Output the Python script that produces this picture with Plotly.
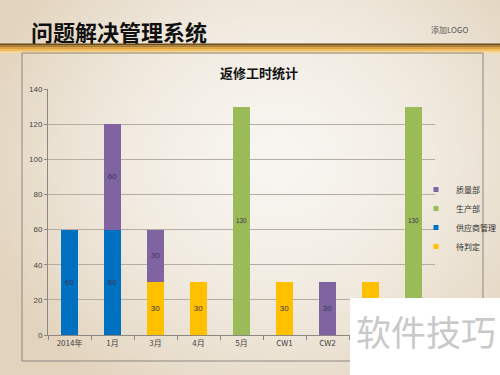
import base64, struct, zlib
import numpy as np
import plotly.graph_objects as go

categories = ["2014年", "1月", "3月", "4月", "5月", "CW1", "CW2", "CW3", "CW4"]
pending = [None, None, 30, 30, None, 30, None, 30, None]       # 待判定
supplier = [60, 60, None, None, None, None, None, None, None]  # 供应商管理
production = [None, None, None, None, 130, None, None, None, 130]  # 生产部
quality = [None, 60, 30, None, None, None, 30, None, None]     # 质量部
series_names = ["待判定", "供应商管理", "生产部", "质量部"]
series_colors = ["#FFC000", "#0070C0", "#9BBB59", "#8064A2"]

W, H = 500, 375
L, R, T, B = 48, 435, 89, 335

def px(x):
    return (x - L) / (R - L)

def py(y):
    return (B - y) / (B - T)

# background radial gradient as PNG data URI
def make_bg():
    w, h = 125, 94
    yy, xx = np.mgrid[0:h, 0:w]
    cx, cy = w * 0.55, h * 0.42
    d = np.sqrt(((xx - cx) / (w * 0.62)) ** 2 + ((yy - cy) / (h * 0.75)) ** 2)
    d = np.clip(d, 0, 1) ** 1.6
    c0 = np.array([248, 246, 241], float)
    c1 = np.array([226, 211, 188], float)
    img = c0[None, None, :] * (1 - d[..., None]) + c1[None, None, :] * d[..., None]
    img = img.astype(np.uint8)
    raw = b"".join(b"\x00" + img[r].tobytes() for r in range(h))
    def chunk(t, data):
        c = struct.pack(">I", len(data)) + t + data
        return c + struct.pack(">I", zlib.crc32(t + data) & 0xFFFFFFFF)
    png = b"\x89PNG\r\n\x1a\n" + chunk(b"IHDR", struct.pack(">IIBBBBB", w, h, 8, 2, 0, 0, 0))
    png += chunk(b"IDAT", zlib.compress(raw, 9)) + chunk(b"IEND", b"")
    return "data:image/png;base64," + base64.b64encode(png).decode()

fig = go.Figure()
for name, vals, col in zip(series_names, [pending, supplier, production, quality], series_colors):
    fig.add_trace(go.Bar(
        x=categories, y=vals, name=name, marker=dict(color=col, line=dict(width=0)),
        text=[str(v) if v is not None else "" for v in vals],
        textposition="inside", insidetextanchor="middle", textangle=0,
        textfont=dict(size=8, color="#3A3550", family="Liberation Sans"),
        width=0.4, showlegend=False,
    ))
# legend entries (small square keys like the original)
for name, col in zip(series_names, series_colors):
    fig.add_trace(go.Scatter(
        x=[None], y=[None], mode="markers", name=name,
        marker=dict(symbol="square", size=5, color=col), showlegend=True,
    ))

shapes = []
# gold band
band = [(43.5, 45.5, "#6B4A1A"), (45.5, 47.5, "#B07A22"), (47.5, 49.5, "#E2A235"),
        (49.5, 51.5, "#F2BE5E"), (51.5, 53.5, "#F7D9A0")]
for y0, y1, c in band:
    shapes.append(dict(type="rect", xref="paper", yref="paper", x0=px(0), x1=px(W),
                       y0=py(y1), y1=py(y0), fillcolor=c, line=dict(width=0), layer="below"))
# chart frame
shapes.append(dict(type="rect", xref="paper", yref="paper", x0=px(22), x1=px(483),
                   y0=py(361), y1=py(53), line=dict(color="#8C8780", width=1),
                   fillcolor="rgba(0,0,0,0)", layer="below"))
# watermark box
shapes.append(dict(type="rect", xref="paper", yref="paper", x0=px(350), x1=px(W + 2),
                   y0=py(H + 2), y1=py(298), fillcolor="#FFFFFF", line=dict(width=0), layer="above"))

annotations = [
    dict(text="<b>问题解决管理系统</b>", xref="paper", yref="paper", x=px(29), y=py(31),
         xanchor="left", yanchor="middle", showarrow=False,
         font=dict(size=22, color="#111111", family="Noto Sans CJK SC")),
    dict(text="添加LOGO", xref="paper", yref="paper", x=px(450), y=py(29),
         xanchor="center", yanchor="middle", showarrow=False,
         font=dict(size=8, color="#555555", family="Noto Sans CJK SC")),
    dict(text="<b>返修工时统计</b>", xref="paper", yref="paper", x=px(259), y=py(72),
         xanchor="center", yanchor="middle", showarrow=False,
         font=dict(size=13, color="#111111", family="Noto Sans CJK SC")),
    dict(text="软件技巧", xref="paper", yref="paper", x=px(426), y=py(330),
         xanchor="center", yanchor="middle", showarrow=False,
         font=dict(size=35, color="#C9C9C9", family="Noto Sans CJK SC")),
]

fig.update_layout(
    width=W, height=H,
    margin=dict(l=L, r=W - R, t=T, b=H - B, pad=0, autoexpand=False),
    paper_bgcolor="#EFE7DA", plot_bgcolor="rgba(0,0,0,0)",
    barmode="stack", bargap=0.6,
    showlegend=True,
    legend=dict(traceorder="reversed", xref="container", yref="container",
                x=416 / W, y=1 - 218 / H, xanchor="left", yanchor="middle",
                font=dict(size=8, color="#333333", family="Noto Sans CJK SC"),
                bgcolor="rgba(0,0,0,0)", itemwidth=30, tracegroupgap=0),
    shapes=shapes, annotations=annotations,
    images=[dict(source=make_bg(), xref="paper", yref="paper", x=px(0), y=py(0),
                 sizex=px(W) - px(0), sizey=py(0) - py(H), sizing="stretch",
                 xanchor="left", yanchor="top", layer="below")],
    font=dict(family="Liberation Sans"),
)
fig.update_yaxes(range=[0, 140], dtick=20, showgrid=True, gridcolor="#B3ADA4", gridwidth=1,
                 showline=True, linecolor="#8C8780", linewidth=1, ticks="outside", ticklen=3,
                 tickcolor="#8C8780", tickfont=dict(size=8, color="#444444"), zeroline=False)
fig.update_xaxes(showline=True, linecolor="#8C8780", linewidth=1, ticks="outside", ticklen=4,
                 tickson="boundaries", tickcolor="#8C8780",
                 tickfont=dict(size=8, color="#444444", family="Noto Sans CJK SC"))

fig.write_html("out.html", config={"displayModeBar": False},
               post_script="document.body.style.margin='0';document.body.style.padding='0';")
